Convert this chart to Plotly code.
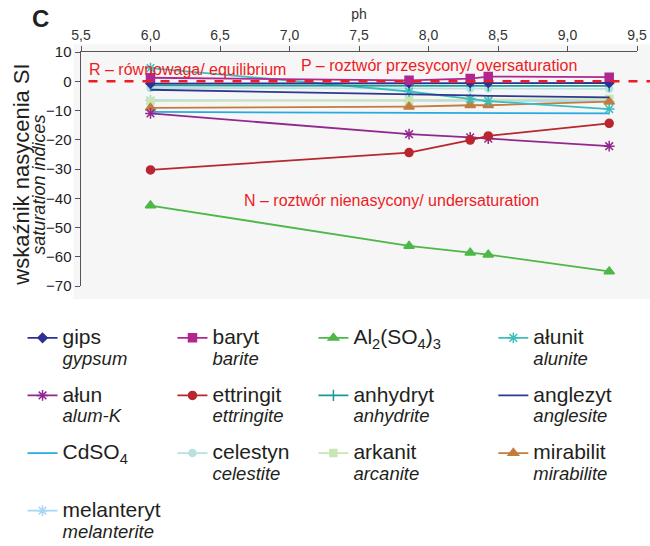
import plotly.graph_objects as go

# ---------------- data ----------------
ph = [6.0, 7.86, 8.30, 8.43, 9.30]

gips        = [-0.8, -0.6, -0.5, -0.5, -0.6]
baryt       = [1.2, 0.3, 0.9, 1.6, 1.4]
al2so43     = [-42.5, -56.3, -58.6, -59.3, -65.0]
alunit      = [4.5, -3.5, -6.0, -6.8, -9.5]
alun        = [-11.0, -18.1, -19.2, -19.6, -22.2]
ettringit   = [-30.3, -24.4, -20.1, -18.7, -14.4]
anhydryt    = [-1.4, -1.4, -1.5, -1.5, -1.6]
anglezyt    = [-2.9, -4.3, -4.8, -5.0, -5.5]
cdso4       = [-10.5, -10.8, -10.9, -10.9, -11.0]
celestyn    = [-2.3, -2.5, -2.5, -2.5, -2.6]
arkanit     = [-6.8, -6.5, -6.3, -6.3, -6.0]
mirabilit   = [-9.1, -8.7, -8.2, -8.2, -7.0]
melanteryt  = [-6.5, -6.7, -6.7, -6.8, -6.8]

x_tickvals = [5.5, 6.0, 6.5, 7.0, 7.5, 8.0, 8.5, 9.0, 9.5]
x_ticktext = ["5,5", "6,0", "6,5", "7,0", "7,5", "8,0", "8,5", "9,0", "9,5"]
y_tickvals = [10, 0, -10, -20, -30, -40, -50, -60, -70]

# ---------------- layout geometry ----------------
W, H = 650, 546
# plot area edges in page pixels
SX0, SX1, SY0, SY1 = 80.5, 636.7, 51.7, 286.0
ML = SX0
MR = W - SX1
MT = SY0
MB = H - SY1
PW = SX1 - SX0
PH = SY1 - SY0
FONT = "Arial, Liberation Sans, sans-serif"
RED = "#ed1c24"

def px(xs):
    return (xs - SX0) / PW

def py(ys):
    return (SY1 - ys) / PH

def leg(pl, en):
    return (f"<span style='font-size:21px'>{pl}</span><br>"
            f"<span style='font-size:18.5px'><i>{en}</i></span>")

series = [
    # name, data, color, symbol, size, mode, legend
    (leg("gips", "gypsum"), gips, "#2e3192", "diamond", 7, "lines+markers", "legend"),
    (leg("ałun", "alum-K"), alun, "#92278f", "asterisk-open", 9, "lines+markers", "legend"),
    ("<span style='font-size:21px'>CdSO<sub>4</sub></span><br> ", cdso4, "#27aae1", "circle", 1, "lines", "legend"),
    (leg("melanteryt", "melanterite"), melanteryt, "#a7d6f2", "asterisk-open", 9, "lines+markers", "legend"),
    (leg("baryt", "barite"), baryt, "#b0278f", "square", 8, "lines+markers", "legend2"),
    (leg("ettringit", "ettringite"), ettringit, "#b8262f", "circle", 8, "lines+markers", "legend2"),
    (leg("celestyn", "celestite"), celestyn, "#b9e0e2", "circle", 7, "lines+markers", "legend2"),
    ("<span style='font-size:21px'>Al<sub>2</sub>(SO<sub>4</sub>)<sub>3</sub></span><br> ", al2so43, "#4db848", "triangle-up", 9, "lines+markers", "legend3"),
    (leg("anhydryt", "anhydrite"), anhydryt, "#1a9a96", "line-ns-open", 8, "lines+markers", "legend3"),
    (leg("arkanit", "arcanite"), arkanit, "#c9e5b5", "square", 7, "lines+markers", "legend3"),
    (leg("ałunit", "alunite"), alunit, "#3dbdbd", "asterisk-open", 9, "lines+markers", "legend4"),
    (leg("anglezyt", "anglesite"), anglezyt, "#2b3990", "circle", 1, "lines", "legend4"),
    (leg("mirabilit", "mirabilite"), mirabilit, "#c27c3e", "triangle-up", 9, "lines+markers", "legend4"),
]

# draw order: pale ones first so the strong ones are on top
order = [3, 6, 9, 2, 12, 10, 11, 8, 0, 4, 1, 5, 7]

fig = go.Figure()
for i in order:
    name, vals, col, sym, size, mode, lg = series[i]
    fig.add_trace(go.Scatter(
        x=ph, y=vals, name=name, mode=mode,
        line=dict(color=col, width=1.8),
        marker=dict(color=col, symbol=sym, size=size, line=dict(color=col, width=1.5)),
        legend=lg, legendgroup=f"g{i}", legendrank=i + 1,
        cliponaxis=False, hoverinfo="skip",
    ))

legend_common = dict(
    orientation="v", yanchor="top", xanchor="left",
    bgcolor="rgba(0,0,0,0)", valign="top", tracegroupgap=13,
    font=dict(family=FONT, size=16, color="#231f20"),
    traceorder="grouped", itemwidth=30,
)
ly = py(321)
fig.update_layout(
    legend=dict(x=px(22), y=ly, **legend_common),
    legend2=dict(x=px(172), y=ly, **legend_common),
    legend3=dict(x=px(313), y=ly, **legend_common),
    legend4=dict(x=px(493), y=ly, **legend_common),
)

fig.update_layout(
    width=W, height=H,
    margin=dict(l=ML, r=MR, t=MT, b=MB, autoexpand=False),
    paper_bgcolor="white", plot_bgcolor="rgba(0,0,0,0)",
    font=dict(family=FONT, color="#231f20"),
    showlegend=True, hovermode=False,
    xaxis=dict(
        side="top", range=[5.5, 9.5], tickvals=x_tickvals, ticktext=x_ticktext,
        showline=True, linecolor="#555", linewidth=1.5, ticks="outside",
        ticklen=5, tickcolor="#555", showgrid=False, zeroline=False,
        tickfont=dict(size=14, color="#333"),
        title=dict(text="ph", font=dict(size=14, color="#333"), standoff=4),
    ),
    yaxis=dict(
        range=[-70, 10], tickvals=y_tickvals,
        showline=True, linecolor="#555", linewidth=1.5, ticks="outside",
        ticklen=5, tickcolor="#555", showgrid=False, zeroline=False,
        tickfont=dict(size=15, color="#222"),
    ),
    shapes=[
        dict(type="rect", xref="paper", yref="paper", layer="below",
             x0=px(73), x1=px(650), y0=py(299), y1=py(44),
             fillcolor="#f6f6f6", line=dict(width=0)),
        dict(type="line", xref="paper", yref="paper", layer="above",
             x0=px(88), x1=px(650), y0=py(81.0), y1=py(81.0),
             line=dict(color=RED, width=2.5, dash="dash")),
    ],
    annotations=[
        dict(text="<b>C</b>", xref="paper", yref="paper", x=px(40), y=py(18),
             showarrow=False, font=dict(size=24, color="#231f20", family=FONT),
             xanchor="center", yanchor="middle"),
        dict(text="R – równowaga/ equilibrium", xref="paper", yref="paper",
             x=px(87), y=py(69), xanchor="left", yanchor="middle", showarrow=False,
             font=dict(size=16, color=RED, family=FONT)),
        dict(text="P – roztwór przesycony/ oversaturation", xref="paper", yref="paper",
             x=px(299), y=py(65), xanchor="left", yanchor="middle", showarrow=False,
             font=dict(size=16, color=RED, family=FONT)),
        dict(text="N – roztwór nienasycony/ undersaturation", xref="paper", yref="paper",
             x=px(242), y=py(200), xanchor="left", yanchor="middle", showarrow=False,
             font=dict(size=16, color=RED, family=FONT)),
        dict(text="wskaźnik nasycenia SI", xref="paper", yref="paper",
             x=px(21), y=py(175), textangle=-90, showarrow=False,
             xanchor="center", yanchor="middle",
             font=dict(size=22, color="#231f20", family=FONT)),
        dict(text="<i>saturation indices</i>", xref="paper", yref="paper",
             x=px(39), y=py(185), textangle=-90, showarrow=False,
             xanchor="center", yanchor="middle",
             font=dict(size=18, color="#231f20", family=FONT)),
    ],
)

fig.write_html(
    "out.html",
    config={"displayModeBar": False, "staticPlot": True},
    post_script="document.body.style.margin='0';document.body.style.overflow='hidden';",
)
